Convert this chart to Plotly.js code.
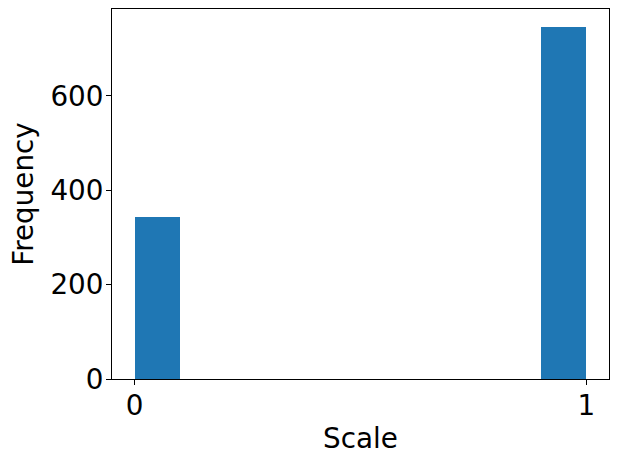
<!DOCTYPE html>
<html>
<head>
<meta charset="utf-8">
<script src="https://cdn.plot.ly/plotly-3.0.1.min.js"></script>
<style>html,body{margin:0;padding:0;background:#fff;}#chart{width:618px;height:462px;}</style>
</head>
<body>
<div id="chart"></div>
<script>
const binStarts = [0.0, 0.1, 0.2, 0.3, 0.4, 0.5, 0.6, 0.7, 0.8, 0.9];
const counts = [343, 0, 0, 0, 0, 0, 0, 0, 0, 747];
const binWidth = 0.1;
const xTicks = [0, 1];
const yTicks = [0, 200, 400, 600];

const trace = {
  type: 'bar',
  x: binStarts,
  y: counts,
  width: binStarts.map(() => binWidth),
  offset: 0,
  marker: {color: '#1f77b4', line: {width: 0}},
  hoverinfo: 'x+y'
};

const font = {family: 'DejaVu Sans', size: 27.8, color: '#000'};
const layout = {
  width: 618, height: 462,
  margin: {l: 112, r: 9, t: 9, b: 83},
  paper_bgcolor: '#fff', plot_bgcolor: '#fff',
  showlegend: false,
  font: font,
  bargap: 0,
  xaxis: {
    range: [-0.05, 1.05],
    tickvals: xTicks, ticktext: xTicks.map(String),
    ticks: 'outside', ticklen: 5, tickwidth: 1, tickcolor: '#000',
    ticklabelstandoff: -3,
    showline: true, linecolor: '#000', linewidth: 1, mirror: true,
    showgrid: false, zeroline: false,
    tickfont: font,
    title: {text: 'Scale', font: font, standoff: 7}
  },
  yaxis: {
    range: [0, 784.4],
    tickvals: yTicks, ticktext: yTicks.map(String),
    ticks: 'outside', ticklen: 5, tickwidth: 1, tickcolor: '#000',
    ticklabelstandoff: -3,
    showline: true, linecolor: '#000', linewidth: 1, mirror: true,
    showgrid: false, zeroline: false,
    tickfont: font,
    title: {text: 'Frequency', font: font, standoff: 8}
  }
};

Plotly.newPlot('chart', [trace], layout, {displayModeBar: false, staticPlot: true});
</script>
</body>
</html>
